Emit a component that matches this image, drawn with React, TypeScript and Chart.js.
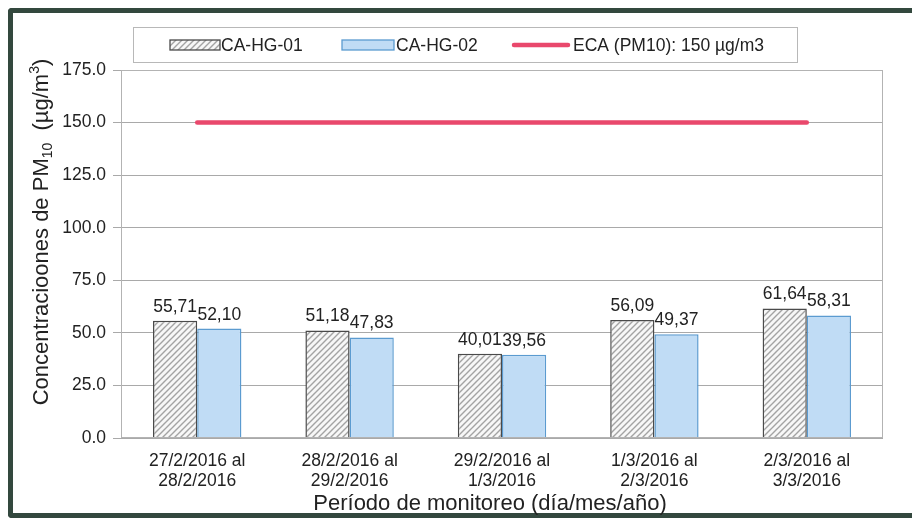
import React, { useEffect, useRef } from "react";
import { Chart, registerables } from "chart.js";

Chart.register(...registerables);

const categories: string[][] = [
  ["27/2/2016 al", "28/2/2016"],
  ["28/2/2016 al", "29/2/2016"],
  ["29/2/2016 al", "1/3/2016"],
  ["1/3/2016 al", "2/3/2016"],
  ["2/3/2016 al", "3/3/2016"],
];
const seriesHG01: number[] = [55.71, 51.18, 40.01, 56.09, 61.64];
const seriesHG02: number[] = [52.1, 47.83, 39.56, 49.37, 58.31];
const ecaValues: number[] = [150, 150, 150, 150, 150];
const seriesNames: string[] = ["CA-HG-01", "CA-HG-02", "ECA (PM10): 150 µg/m3"];
const yTicks: number[] = [0, 25, 50, 75, 100, 125, 150, 175];
const xTitle = "Período de monitoreo (día/mes/año)";

const FONT = "'Liberation Sans', Arial, sans-serif";
const TEXT = "#222222";
const BLUE_FILL = "#c0dcf5";
const BLUE_BORDER = "#5b9bd0";
const HATCH_BORDER = "#4a4a4a";
const RED = "#e9486c";

function makeHatch(): CanvasPattern | string {
  const c = document.createElement("canvas");
  const s = 6;
  c.width = s;
  c.height = s;
  const g = c.getContext("2d");
  if (!g) return "#dddddd";
  g.fillStyle = "#f7f7f7";
  g.fillRect(0, 0, s, s);
  g.strokeStyle = "#a3a3a3";
  g.lineWidth = 1.4;
  g.beginPath();
  g.moveTo(0, s);
  g.lineTo(s, 0);
  g.moveTo(-1, 1);
  g.lineTo(1, -1);
  g.moveTo(s - 1, s + 1);
  g.lineTo(s + 1, s - 1);
  g.stroke();
  const p = g.createPattern(c, "repeat");
  return p || "#dddddd";
}

export default function App() {
  const ref = useRef<HTMLCanvasElement | null>(null);

  useEffect(() => {
    if (!ref.current) return;
    const hatch = makeHatch();

    const decor = {
      id: "decor",
      afterDatasetsDraw(chart: any) {
        const ctx = chart.ctx as CanvasRenderingContext2D;
        const area = chart.chartArea;
        // plot border
        ctx.save();
        ctx.strokeStyle = "#b3b3b3";
        ctx.lineWidth = 1;
        ctx.strokeRect(area.left + 0.5, area.top + 0.5, area.right - area.left - 1, area.bottom - area.top - 1);
        ctx.restore();

        // data labels
        ctx.save();
        ctx.font = `17.5px ${FONT}`;
        ctx.fillStyle = TEXT;
        ctx.textAlign = "center";
        ctx.textBaseline = "bottom";
        [0, 1].forEach((di) => {
          const meta = chart.getDatasetMeta(di);
          const vals = chart.data.datasets[di].data as number[];
          meta.data.forEach((el: any, i: number) => {
            const label = vals[i].toFixed(2).replace(".", ",");
            ctx.fillText(label, el.x, el.y - 5);
          });
        });
        ctx.restore();
      },
      afterDraw(chart: any) {
        const ctx = chart.ctx as CanvasRenderingContext2D;
        // legend box
        ctx.save();
        ctx.strokeStyle = "#b8b8b8";
        ctx.lineWidth = 1;
        ctx.strokeRect(133.5, 27.5, 664, 35);
        const cy = 45;
        ctx.font = `17.5px ${FONT}`;
        ctx.fillStyle = TEXT;
        ctx.textBaseline = "middle";
        ctx.textAlign = "left";
        // item 1
        ctx.fillStyle = hatch as any;
        ctx.fillRect(170, cy - 5, 50, 10);
        ctx.strokeStyle = HATCH_BORDER;
        ctx.lineWidth = 1.3;
        ctx.strokeRect(170, cy - 5, 50, 10);
        ctx.fillStyle = TEXT;
        ctx.fillText(seriesNames[0], 221, cy + 1);
        // item 2
        ctx.fillStyle = BLUE_FILL;
        ctx.fillRect(342, cy - 5, 52, 10);
        ctx.strokeStyle = BLUE_BORDER;
        ctx.strokeRect(342, cy - 5, 52, 10);
        ctx.fillStyle = TEXT;
        ctx.fillText(seriesNames[1], 396, cy + 1);
        // item 3
        ctx.strokeStyle = RED;
        ctx.lineWidth = 4.5;
        ctx.lineCap = "round";
        ctx.beginPath();
        ctx.moveTo(514, cy);
        ctx.lineTo(568, cy);
        ctx.stroke();
        ctx.fillStyle = TEXT;
        ctx.fillText(seriesNames[2], 573, cy + 1);
        ctx.restore();

        // x title
        ctx.save();
        ctx.font = `22px ${FONT}`;
        ctx.fillStyle = TEXT;
        ctx.textAlign = "center";
        ctx.textBaseline = "middle";
        ctx.fillText(xTitle, 490, 504);
        ctx.restore();

        // y title with sub/superscripts
        ctx.save();
        ctx.translate(40, 232);
        ctx.rotate(-Math.PI / 2);
        ctx.fillStyle = TEXT;
        ctx.textBaseline = "alphabetic";
        ctx.textAlign = "left";
        const parts: { t: string; size: number; dy: number }[] = [
          { t: "Concentracioones de PM", size: 22, dy: 8 },
          { t: "10", size: 14, dy: 12 },
          { t: "  (µg/m", size: 22, dy: 8 },
          { t: "3", size: 14, dy: -1 },
          { t: ")", size: 22, dy: 8 },
        ];
        let total = 0;
        parts.forEach((p) => {
          ctx.font = `${p.size}px ${FONT}`;
          total += ctx.measureText(p.t).width;
        });
        let x = -total / 2;
        parts.forEach((p) => {
          ctx.font = `${p.size}px ${FONT}`;
          ctx.fillText(p.t, x, p.dy);
          x += ctx.measureText(p.t).width;
        });
        ctx.restore();
      },
    };

    const chart = new Chart(ref.current, {
      type: "bar",
      data: {
        labels: categories,
        datasets: [
          {
            type: "bar",
            label: seriesNames[0],
            data: seriesHG01,
            backgroundColor: hatch as any,
            borderColor: HATCH_BORDER,
            borderWidth: 1.5,
            categoryPercentage: 0.58,
            barPercentage: 1.0,
            order: 2,
          },
          {
            type: "bar",
            label: seriesNames[1],
            data: seriesHG02,
            backgroundColor: BLUE_FILL,
            borderColor: BLUE_BORDER,
            borderWidth: 1.5,
            categoryPercentage: 0.58,
            barPercentage: 1.0,
            order: 2,
          },
          {
            type: "line",
            label: seriesNames[2],
            data: ecaValues,
            borderColor: RED,
            backgroundColor: RED,
            borderWidth: 4.5,
            borderCapStyle: "round",
            pointRadius: 0,
            fill: false,
            order: 1,
          } as any,
        ],
      },
      options: {
        responsive: false,
        animation: false,
        layout: { padding: { top: 70, right: 29, left: 0, bottom: 0 } },
        plugins: {
          legend: { display: false },
          tooltip: { enabled: false },
          title: { display: false },
        },
        scales: {
          x: {
            grid: { display: false, drawTicks: false, tickLength: 0 },
            border: { display: false },
            ticks: {
              color: TEXT,
              padding: 14,
              maxRotation: 0,
              autoSkip: false,
              font: { family: FONT, size: 17.5, lineHeight: 1.1 },
            },
            afterFit: (scale: any) => {
              scale.height = 80;
            },
          },
          y: {
            min: 0,
            max: 175,
            afterBuildTicks: (scale: any) => {
              scale.ticks = yTicks.map((v) => ({ value: v }));
            },
            grid: { color: "#a9a9a9", lineWidth: 1, tickLength: 8, drawTicks: true },
            border: { display: false },
            ticks: {
              color: TEXT,
              padding: 7,
              font: { family: FONT, size: 17.5 },
              callback: (v: any) => Number(v).toFixed(1),
            },
            afterFit: (scale: any) => {
              scale.width = 121;
            },
          },
        },
      },
      plugins: [decor],
    });

    return () => chart.destroy();
  }, []);

  return (
    <div
      style={{
        position: "fixed",
        left: 0,
        top: 0,
        width: 912,
        height: 518,
        overflow: "hidden",
        background: "#ffffff",
      }}
    >
      <div
        style={{
          position: "absolute",
          left: 8,
          top: 8,
          width: 930,
          height: 500,
          borderLeft: "5px solid #33483e",
          borderTop: "5px solid #33483e",
          borderBottom: "5px solid #33483e",
          borderTopLeftRadius: 4,
          borderBottomLeftRadius: 4,
        }}
      />
      <canvas ref={ref} width={912} height={518} style={{ position: "absolute", left: 0, top: 0 }} />
    </div>
  );
}
